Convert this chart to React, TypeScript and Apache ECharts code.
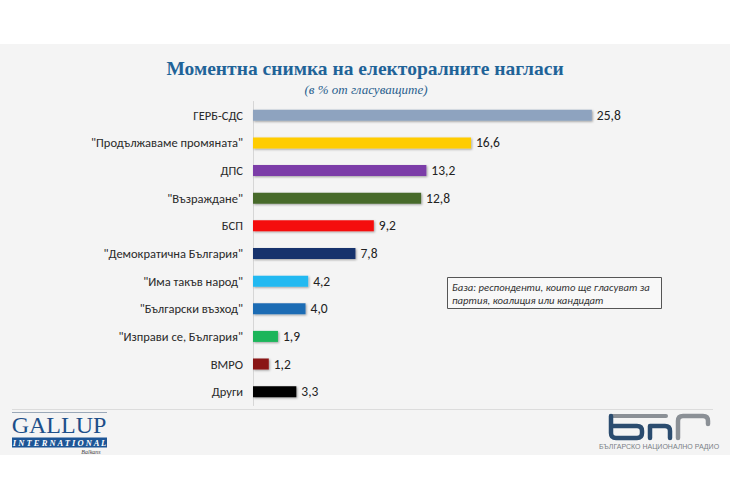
import React, { useEffect, useRef } from "react";
import * as echarts from "echarts";

const categories = [
  "ГЕРБ-СДС",
  "\"Продължаваме промяната\"",
  "ДПС",
  "\"Възраждане\"",
  "БСП",
  "\"Демократична България\"",
  "\"Има такъв народ\"",
  "\"Български възход\"",
  "\"Изправи се, България\"",
  "ВМРО",
  "Други",
];
const values = [25.8, 16.6, 13.2, 12.8, 9.2, 7.8, 4.2, 4.0, 1.9, 1.2, 3.3];
const barColors = [
  "#8ea3bf",
  "#ffcc00",
  "#7b3ca8",
  "#476a2c",
  "#f50f0f",
  "#13306c",
  "#22b9f1",
  "#1f6cb4",
  "#1bb55a",
  "#8a1212",
  "#050505",
];
const titleText = "Моментна снимка на електоралните нагласи";
const subtitleText = "(в % от гласуващите)";
const noteLines = ["База: респонденти, които ще гласуват за", "партия, коалиция или кандидат"];

echarts.graphic.registerShape(
  "bnrB",
  echarts.graphic.extendPath("M3 8 L3 25 Q3 30 8 30 L29 30 Q34 30 34 25 L34 23 Q34 18 29 18 L3 18", {})
);
echarts.graphic.registerShape(
  "bnrN",
  echarts.graphic.extendPath("M42 30 L42 18 L57 18 Q62 18 62 23 L62 30", {})
);
echarts.graphic.registerShape(
  "bnrR",
  echarts.graphic.extendPath("M70 30 L70 13 Q70 8 75 8 L95 8 Q100 8 100 13 L100 16", {})
);
echarts.graphic.registerShape("bnrTop", echarts.graphic.extendPath("M3 8 L58 8", {}));

export default function App() {
  const ref = useRef<HTMLDivElement>(null);
  useEffect(() => {
    document.body.style.margin = "0";
    const chart = echarts.init(ref.current!, null, { renderer: "svg" });
    const navy = "#2b4c6f";
    const grey = "#8b9096";
    chart.setOption({
      animation: false,
      backgroundColor: "#ffffff",
      grid: { left: 253, top: 101.5, width: 394, height: 304, containLabel: false },
      xAxis: {
        type: "value",
        min: 0,
        max: 30,
        show: false,
      },
      yAxis: {
        type: "category",
        inverse: true,
        data: categories,
        axisLine: { show: true, lineStyle: { color: "#d6d6d6", width: 1 } },
        axisTick: { show: false },
        axisLabel: {
          color: "#2a2a2a",
          fontSize: 12.5,
          fontFamily: "Carlito, 'Liberation Sans', sans-serif",
          margin: 10,
        },
      },
      series: [
        {
          type: "bar",
          barWidth: 11,
          data: values.map((v, i) => ({
            value: v,
            itemStyle: {
              color: barColors[i],
              shadowColor: "rgba(0,0,0,0.35)",
              shadowBlur: 2,
              shadowOffsetX: 1,
              shadowOffsetY: 1,
            },
          })),
          label: {
            show: true,
            position: "right",
            distance: 5,
            color: "#222",
            fontSize: 13.5,
            fontFamily: "Carlito, 'Liberation Sans', sans-serif",
            formatter: (p: any) => p.value.toFixed(1).replace(".", ","),
          },
        },
      ],
      graphic: [
        { type: "rect", z: -10, shape: { x: 0, y: 44, width: 730, height: 411 }, style: { fill: "#f4f4f4" } },
        {
          type: "text",
          x: 365,
          y: 68,
          style: {
            text: titleText,
            fill: "#1f6398",
            font: "bold 19.5px 'Liberation Serif', 'DejaVu Serif', serif",
            align: "center",
            verticalAlign: "middle",
          },
        },
        {
          type: "text",
          x: 366,
          y: 89,
          style: {
            text: subtitleText,
            fill: "#2a5f8e",
            font: "italic 13px 'Liberation Serif', serif",
            align: "center",
            verticalAlign: "middle",
          },
        },
        // separator line
        { type: "line", shape: { x1: 12, y1: 409.5, x2: 713, y2: 409.5 }, style: { stroke: "#dcdcdc", lineWidth: 1 } },
        // note box
        {
          type: "rect",
          shape: { x: 447.5, y: 277.5, width: 214, height: 31 },
          style: { fill: "#f8f8f8", stroke: "#555", lineWidth: 1 },
        },
        {
          type: "text",
          x: 452,
          y: 287,
          style: {
            text: noteLines[0],
            fill: "#333",
            font: "italic 10.7px Carlito, 'Liberation Sans', sans-serif",
            verticalAlign: "middle",
          },
        },
        {
          type: "text",
          x: 452,
          y: 300,
          style: {
            text: noteLines[1],
            fill: "#333",
            font: "italic 10.7px Carlito, 'Liberation Sans', sans-serif",
            verticalAlign: "middle",
          },
        },
        // Gallup logo
        { type: "line", shape: { x1: 12, y1: 412.5, x2: 107, y2: 412.5 }, style: { stroke: "#9aa8b8", lineWidth: 1 } },
        {
          type: "text",
          x: 59,
          y: 424.5,
          style: {
            text: "GALLUP",
            fill: "#1d4f8a",
            font: "24px 'Liberation Serif', serif",
            align: "center",
            verticalAlign: "middle",
          },
        },
        { type: "rect", shape: { x: 12, y: 437.5, width: 95, height: 10 }, style: { fill: "#1d5596" } },
        {
          type: "text",
          x: 59.5,
          y: 443,
          style: {
            text: "I N T E R N A T I O N A L",
            fill: "#ffffff",
            font: "italic bold 8.5px 'Liberation Serif', serif",
            align: "center",
            verticalAlign: "middle",
          },
        },
        {
          type: "text",
          x: 91,
          y: 452,
          style: {
            text: "Balkans",
            fill: "#444",
            font: "italic 6px 'Liberation Serif', serif",
            align: "center",
            verticalAlign: "middle",
          },
        },
        // BNR logo
        { type: "bnrTop", x: 608, y: 408, style: { stroke: grey, lineWidth: 4, fill: "none", lineCap: "round" } },
        { type: "bnrB", x: 608, y: 408, style: { stroke: navy, lineWidth: 4.5, fill: "none", lineJoin: "round", lineCap: "round" } },
        { type: "bnrN", x: 608, y: 408, style: { stroke: navy, lineWidth: 4.5, fill: "none", lineJoin: "round", lineCap: "round" } },
        { type: "bnrR", x: 608, y: 408, style: { stroke: grey, lineWidth: 4.5, fill: "none", lineJoin: "round", lineCap: "round" } },
        {
          type: "text",
          x: 659,
          y: 446,
          style: {
            text: "БЪЛГАРСКО НАЦИОНАЛНО РАДИО",
            fill: "#7a7f86",
            font: "7px 'Liberation Sans Narrow', 'Liberation Sans', sans-serif",
            align: "center",
            verticalAlign: "middle",
          },
        },
      ],
    });
    return () => chart.dispose();
  }, []);
  return <div ref={ref} style={{ width: 730, height: 500 }} />;
}
